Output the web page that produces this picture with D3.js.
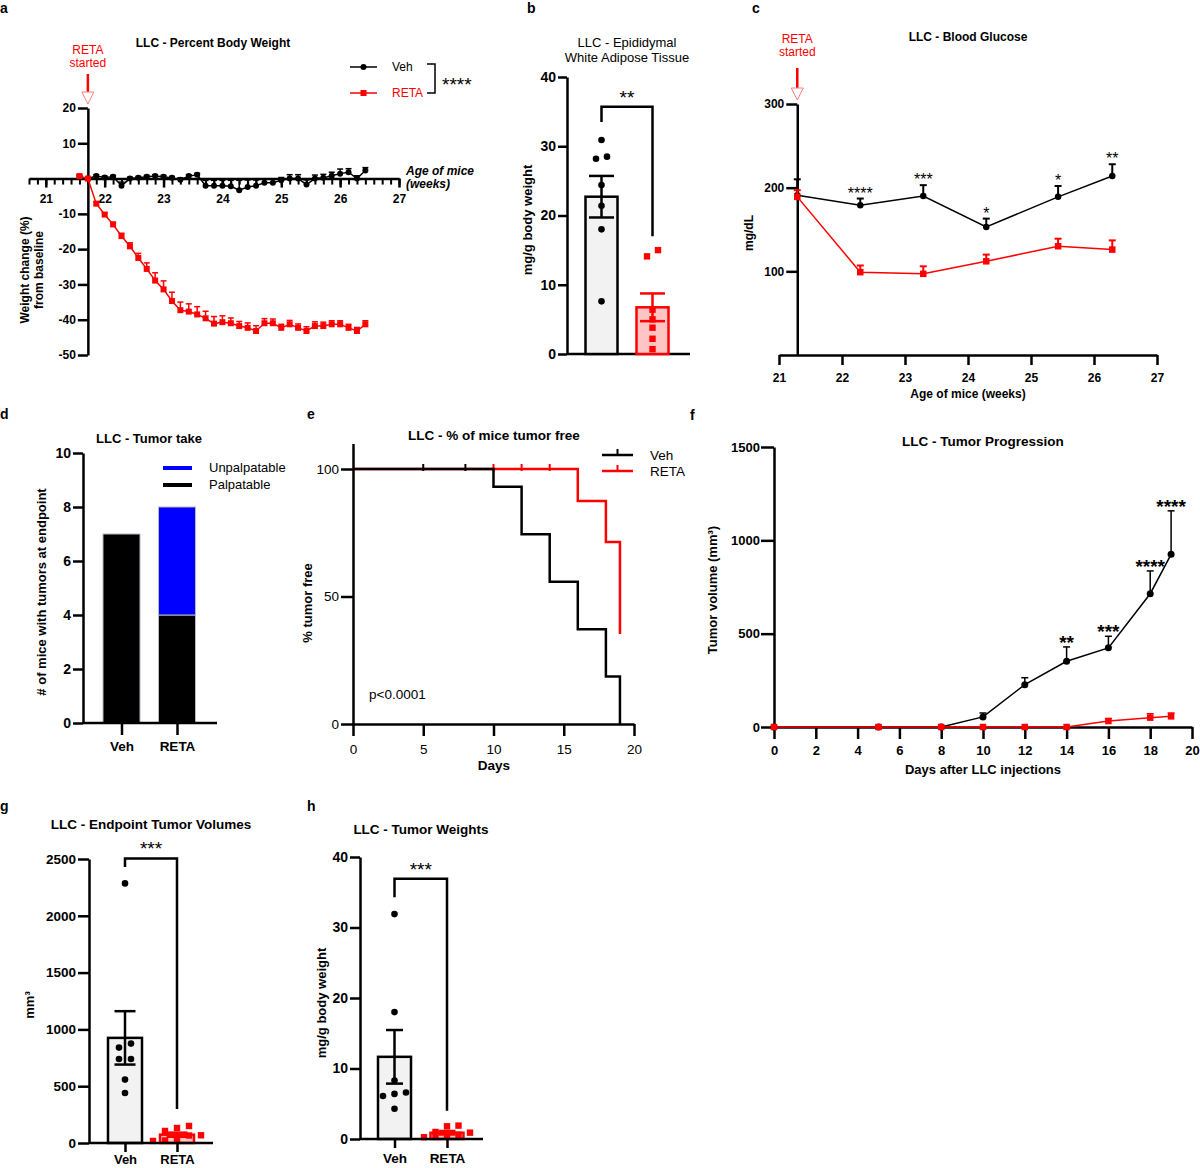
<!DOCTYPE html>
<html lang="en">
<head>
<meta charset="utf-8">
<title>LLC - RETA</title>
<script src="https://cdn.jsdelivr.net/npm/d3@7"></script>
<style>
body { margin: 0; background: #fff; }
svg { display: block; }
</style>
</head>
<body>
<script>
// ---- data ----
var groups = ["Veh", "RETA"];

// a: percent body weight, one point per day (day 0 = RETA start, 21 5/7 weeks)
var daysA = [-1, 0, 1, 2, 3, 4, 5, 6, 7, 8, 9, 10, 11, 12, 13, 14, 15, 16, 17, 18, 19, 20, 21, 22, 23, 24, 25, 26, 27, 28, 29, 30, 31, 32, 33];
var vehA = [0.5, 0, 0.7, 0.3, 0.5, -2.0, 0, 0.2, 0.5, 0.7, 0.5, 0.2, -0.3, 0.7, 1.1, -2.0, -2.0, -2.0, -2.2, -3.3, -2.4, -2.0, -1.2, -1.2, -0.5, 0, 0, -1.7, 0, 0.2, 0.8, 1.4, 1.8, 0, 2.3];
var vehAErr = [0.4, 0, 0.4, 0.4, 0.4, 1.0, 0.4, 0.4, 0.4, 0.4, 0.4, 0.4, 0.5, 0.4, 0.4, 1.5, 1.5, 1.5, 1.7, 2.8, 2.0, 1.6, 1.0, 1.0, 0.8, 1.1, 1.1, 1.3, 1.0, 1.0, 1.0, 1.3, 1.0, 0.8, 0.8];
var retaA = [0.7, 0, -7.1, -10.2, -13, -16.3, -19.2, -22.5, -25.6, -28.9, -31.4, -34.7, -37.3, -37.7, -38.5, -39.6, -41.1, -40.7, -41, -41.8, -42.3, -43.2, -41, -41, -42.3, -41.3, -42.3, -43.2, -41.8, -41.8, -41.3, -41.3, -42.3, -43.2, -41.3];
var retaAErr = [0.3, 0, 0.5, 0.5, 0.6, 0.8, 1.0, 1.3, 1.7, 2.2, 2.4, 2.5, 2.3, 2.2, 2.2, 2.0, 2.0, 1.8, 1.5, 1.3, 1.4, 1.5, 1.3, 1.2, 1.0, 1.1, 1.1, 1.2, 1.2, 1.1, 1.0, 1.0, 1.0, 1.0, 1.0];

// b: epididymal WAT (mg/g body weight)
var vehB = [30.9, 28.2, 28.5, 24.4, 21.4, 18.0, 7.6];
var retaB = [15.0, 14.1, 6.4, 5.0, 3.8, 2.2, 0.7];
var semB = [3.0, 2.0];

// c: blood glucose (mg/dL)
var weeksC = [21.29, 22.29, 23.29, 24.29, 25.43, 26.29];
var vehC = [191, 179, 190, 153, 189, 214];
var vehCErr = [19, 8, 13, 10, 13, 14];
var retaC = [189, 99, 97, 112, 130, 126];
var retaCErr = [8, 8, 9, 8, 9, 11];
var starsC = ["", "****", "***", "*", "*", "**"];

// d: tumor take
var palpable = [7, 4];
var unpalpable = [0, 4];

// e: % of mice tumor free
var kmVehDays = [0, 10, 12, 14, 16, 18, 19];
var kmVeh = [100, 93, 74.4, 55.8, 37.2, 18.6, 0];
var kmVehCensor = [5, 8];
var kmRetaDays = [0, 16, 18, 19];
var kmReta = [100, 87.5, 71.4, 35.3];
var kmRetaCensor = [10, 12, 14];

// f: tumor progression (mm3)
var daysF = [0, 5, 8, 10, 12, 14, 16, 18, 19];
var vehF = [0, 0, 0, 54, 227, 352, 424, 714, 925];
var vehFErr = [0, 0, 0, 21, 37, 77, 62, 122, 233];
var retaF = [0, 0, 0, 0, 0, 0, 32, 50, 57];
var retaFErr = [0, 0, 0, 0, 0, 0, 13, 21, 18];
var starsF = ["", "", "", "", "", "**", "***", "****", "****"];

// g: endpoint tumor volumes (mm3)
var vehG = [2285, 875, 840, 740, 740, 558, 440];
var retaG = [150, 132, 106, 68, 66, 24, 22, 18];
var semG = [235, 18];

// h: tumor weights (mg/g body weight)
var vehH = [31.9, 18.0, 8.3, 6.6, 6.4, 6.1, 4.3];
var retaH = [1.9, 1.8, 1.0, 0.9, 0.6, 0.35, 0.3, 0.25];
var semH = [3.8, 0.25];

// ---- helpers ----
var FONT = "'Liberation Sans', Arial, Helvetica, sans-serif";
var RED = "#ff0000";

var svg = d3.select("body").append("svg")
	.attr("width", 1200)
	.attr("height", 1168)
	.attr("font-family", FONT);

function label(g, x, y, s, size, o) {
	o = o || {};
	var t = g.append("text")
		.attr("x", x)
		.attr("y", y)
		.attr("font-size", size)
		.attr("font-weight", o.weight || "bold")
		.attr("text-anchor", o.anchor || "middle")
		.attr("fill", o.fill || "#000")
		.text(s);
	if (o.italic) t.attr("font-style", "italic");
	if (o.rotate) t.attr("transform", "rotate(-90," + x + "," + y + ")");
	return t;
}

function styleAxis(ax, size, weight) {
	ax.attr("font-family", FONT).attr("font-size", size);
	ax.select(".domain").attr("stroke", "#000").attr("stroke-width", 2.5);
	ax.selectAll(".tick line").attr("stroke", "#000").attr("stroke-width", 2.5);
	ax.selectAll(".tick text").attr("fill", "#000").attr("font-weight", weight);
	return ax;
}

function hline(g, x1, x2, y, col, w) {
	g.append("line").attr("x1", x1).attr("x2", x2).attr("y1", y).attr("y2", y)
		.attr("stroke", col).attr("stroke-width", w);
}
function vline(g, x, y1, y2, col, w) {
	g.append("line").attr("x1", x).attr("x2", x).attr("y1", y1).attr("y2", y2)
		.attr("stroke", col).attr("stroke-width", w);
}

function marker(g, shape, x, y, size, col) {
	if (shape === "circle") {
		g.append("circle").attr("cx", x).attr("cy", y).attr("r", size / 2).attr("fill", col);
	} else {
		g.append("rect").attr("x", x - size / 2).attr("y", y - size / 2)
			.attr("width", size).attr("height", size).attr("fill", col);
	}
}

// line + upward SEM bars + markers
function series(g, x, y, xs, vals, errs, o) {
	var pts = xs.map(function(d, i) { return [x(d), y(vals[i]), y(vals[i] + errs[i])]; });
	g.append("path")
		.attr("d", d3.line()(pts.map(function(p) { return [p[0], p[1]]; })))
		.attr("fill", "none")
		.attr("stroke", o.color)
		.attr("stroke-width", o.lw);
	pts.forEach(function(p) {
		if (p[1] - p[2] > 0.5) {
			vline(g, p[0], p[1], p[2], o.color, o.ew);
			hline(g, p[0] - o.cap / 2, p[0] + o.cap / 2, p[2], o.color, o.ew);
		}
	});
	pts.forEach(function(p) { marker(g, o.shape, p[0], p[1], o.size, o.color); });
	return pts;
}

// rows of points whose pixel heights overlap are spread sideways
function swarm(vals, y, gap, step) {
	var sorted = vals.slice().sort(d3.descending);
	var rows = [];
	sorted.forEach(function(v) {
		var last = rows[rows.length - 1];
		if (last && y(v) - y(last[0]) < gap) last.push(v);
		else rows.push([v]);
	});
	var out = [];
	rows.forEach(function(r) {
		r.slice().reverse().forEach(function(v, k) {
			out.push({ v: v, dx: (k - (r.length - 1) / 2) * step });
		});
	});
	return out;
}

function dotBars(g, x, y, sets, sems, o) {
	sets.forEach(function(vals, i) {
		var cx = x(groups[i]);
		var m = d3.mean(vals);
		var col = i === 0 ? "#000" : RED;
		g.append("rect")
			.attr("x", cx - o.barW / 2)
			.attr("y", y(m))
			.attr("width", o.barW)
			.attr("height", y(0) - y(m))
			.attr("fill", i === 0 ? "#f2f2f2" : "#ffc4c4")
			.attr("stroke", col)
			.attr("stroke-width", 2.5);
		swarm(vals, y, 7, o.step).forEach(function(p) {
			marker(g, i === 0 ? "circle" : "square", cx + p.dx, y(p.v), i === 0 ? 6.6 : 6.4, col);
		});
		var hi = y(m + sems[i]), lo = y(m - sems[i]);
		vline(g, cx, hi, lo, col, 2.5);
		hline(g, cx - o.capW / 2, cx + o.capW / 2, hi, col, 2.5);
		hline(g, cx - o.capW / 2, cx + o.capW / 2, lo, col, 2.5);
	});
}

function bracket(g, x1, x2, yL, yTop, yR, stars) {
	g.append("path")
		.attr("d", "M" + x1 + "," + yL + "V" + yTop + "H" + x2 + "V" + yR)
		.attr("fill", "none")
		.attr("stroke", "#000")
		.attr("stroke-width", 2.5);
	label(g, (x1 + x2) / 2, yTop - 3, stars, 19, { weight: "normal" });
}

function retaArrow(g, x, yText, y1, y2) {
	label(g, x, yText, "RETA", 12, { weight: "normal", fill: RED });
	label(g, x, yText + 13, "started", 12, { weight: "normal", fill: RED });
	vline(g, x, y1, y2, RED, 2.5);
	g.append("path")
		.attr("d", "M" + (x - 6) + "," + y2 + "L" + (x + 6) + "," + y2 + "L" + x + "," + (y2 + 12) + "Z")
		.attr("fill", "#fff")
		.attr("stroke", "#ff8080")
		.attr("stroke-width", 1);
}

// ---- a: percent body weight ----
var gA = svg.append("g");
var startA = 21 + 5 / 7;
var xA = d3.scaleLinear().domain([20 + 5 / 7, 27]).range([29, 399]);
var yA = d3.scaleLinear().domain([-50, 20]).range([355, 108]);
var weekA = daysA.map(function(d) { return startA + d / 7; });

var minorA = d3.range(0, 45).map(function(k) { return 20 + (5 + k) / 7; });
var axA = gA.append("g")
	.attr("transform", "translate(0," + yA(0) + ")")
	.call(d3.axisBottom(xA).tickValues(minorA).tickSize(6).tickFormat("").tickSizeOuter(0));
styleAxis(axA, 12, "bold");
axA.selectAll(".tick line").attr("stroke-width", 2);
var axA2 = gA.append("g")
	.attr("transform", "translate(0," + yA(0) + ")")
	.call(d3.axisBottom(xA).tickValues([21, 22, 23, 24, 25, 26, 27]).tickSize(9).tickPadding(7).tickFormat(String));
axA2.select(".domain").remove();
styleAxis(axA2, 12, "bold");

var ayA = gA.append("g")
	.attr("transform", "translate(" + xA(startA) + ",0)")
	.call(d3.axisLeft(yA).tickValues([-50, -40, -30, -20, -10, 10, 20]).tickSize(10).tickPadding(2).tickSizeOuter(0).tickFormat(String));
styleAxis(ayA, 12, "bold");

series(gA, xA, yA, weekA, vehA, vehAErr, { color: "#000", lw: 1.5, ew: 1.5, cap: 6, shape: "circle", size: 6 });
series(gA, xA, yA, weekA, retaA, retaAErr, { color: RED, lw: 1.5, ew: 1.5, cap: 6, shape: "square", size: 6 });

label(gA, 0, 13, "a", 14, { anchor: "start" });
label(gA, 213, 47, "LLC - Percent Body Weight", 12);
retaArrow(gA, xA(startA), 54, 74, 92);
label(gA, 406, 175, "Age of mice", 12, { anchor: "start", italic: true });
label(gA, 406, 188, "(weeks)", 12, { anchor: "start", italic: true });
label(gA, 29, 270, "Weight change (%)", 12, { rotate: true });
label(gA, 43, 270, "from baseline", 12, { rotate: true });

// legend a
hline(gA, 350, 377, 67, "#000", 1.5);
marker(gA, "circle", 363.5, 67, 6, "#000");
label(gA, 392, 71, "Veh", 12, { anchor: "start", weight: "normal" });
hline(gA, 350, 377, 93, RED, 1.5);
marker(gA, "square", 363.5, 93, 6, RED);
label(gA, 392, 97, "RETA", 12, { anchor: "start", weight: "normal", fill: RED });
gA.append("path").attr("d", "M427,64H435V93H427").attr("fill", "none").attr("stroke", "#000").attr("stroke-width", 1.5);
label(gA, 442, 91, "****", 19, { anchor: "start", weight: "normal" });

// ---- b: epididymal WAT ----
var gB = svg.append("g");
var yB = d3.scaleLinear().domain([0, 40]).range([354, 77]);
var xB = d3.scalePoint().domain(groups).range([601.5, 652.5]);
var ayB = gB.append("g")
	.attr("transform", "translate(567,0)")
	.call(d3.axisLeft(yB).tickValues([0, 10, 20, 30, 40]).tickSize(9).tickPadding(2).tickSizeOuter(0));
styleAxis(ayB, 14, "bold");
hline(gB, 567, 690, yB(0), "#000", 2.5);
dotBars(gB, xB, yB, [vehB, retaB], semB, { barW: 32, capW: 25, step: 11 });
bracket(gB, xB("Veh"), xB("RETA"), yB(33.5), yB(35.7), yB(17), "**");
label(gB, 527, 13, "b", 14, { anchor: "start" });
label(gB, 627, 47, "LLC - Epididymal", 13, { weight: "normal" });
label(gB, 627, 62, "White Adipose Tissue", 13, { weight: "normal" });
label(gB, 532, 220, "mg/g body weight", 13, { rotate: true });

// ---- c: blood glucose ----
var gC = svg.append("g");
var xC = d3.scaleLinear().domain([21, 27]).range([779, 1157]);
var yC = d3.scaleLinear().domain([0, 300]).range([355, 104]);
var axC = gC.append("g")
	.attr("transform", "translate(0," + yC(0) + ")")
	.call(d3.axisBottom(xC).tickValues([21, 22, 23, 24, 25, 26, 27]).tickSize(10).tickPadding(8).tickSizeOuter(0).tickFormat(String));
styleAxis(axC, 12, "bold");
var ayC = gC.append("g")
	.attr("transform", "translate(" + xC(weeksC[0]) + ",0)")
	.call(d3.axisLeft(yC).tickValues([100, 200, 300]).tickSize(11).tickPadding(2).tickSizeOuter(0));
styleAxis(ayC, 12, "bold");

var vehPtsC = series(gC, xC, yC, weeksC, vehC, vehCErr, { color: "#000", lw: 1.5, ew: 2, cap: 7, shape: "circle", size: 6.5 });
series(gC, xC, yC, weeksC, retaC, retaCErr, { color: RED, lw: 1.5, ew: 2, cap: 7, shape: "square", size: 6.5 });
vehPtsC.forEach(function(p, i) {
	if (starsC[i]) label(gC, p[0], p[2], starsC[i], 16, { weight: "normal" });
});

label(gC, 752, 13, "c", 14, { anchor: "start" });
label(gC, 968, 41, "LLC - Blood Glucose", 12);
retaArrow(gC, xC(weeksC[0]), 43, 68, 88);
label(gC, 968, 398, "Age of mice (weeks)", 12);
label(gC, 753, 233, "mg/dL", 12, { rotate: true });

// ---- d: tumor take ----
var gD = svg.append("g");
var yD = d3.scaleLinear().domain([0, 10]).range([723, 453]);
var xD = d3.scalePoint().domain(groups).range([121.5, 177]);
var tableD = groups.map(function(name, i) {
	return { group: name, Palpatable: palpable[i], Unpalpatable: unpalpable[i] };
});
var stackD = d3.stack().keys(["Palpatable", "Unpalpatable"])(tableD);
var colD = { Palpatable: "#000", Unpalpatable: "#0000ff" };
stackD.forEach(function(layer) {
	gD.selectAll(null)
		.data(layer)
		.enter()
		.append("rect")
		.attr("x", function(d) { return xD(d.data.group) - 18.5; })
		.attr("y", function(d) { return yD(d[1]); })
		.attr("width", 37)
		.attr("height", function(d) { return yD(d[0]) - yD(d[1]); })
		.attr("fill", colD[layer.key])
		.attr("stroke", function(d) { return d[1] > d[0] ? "#b8b8c8" : "none"; })
		.attr("stroke-width", 1);
});
var ayD = gD.append("g")
	.attr("transform", "translate(83,0)")
	.call(d3.axisLeft(yD).tickValues([0, 2, 4, 6, 8, 10]).tickSize(10).tickPadding(2).tickSizeOuter(0));
styleAxis(ayD, 14, "bold");
var axD = gD.append("g")
	.attr("transform", "translate(0," + yD(0) + ")")
	.call(d3.axisBottom(xD).tickSize(12).tickPadding(6).tickSizeOuter(0));
axD.select(".domain").remove();
styleAxis(axD, 13.5, "bold");
hline(gD, 83, 217, yD(0), "#000", 2.5);
hline(gD, 163, 192, 468, "#0000ff", 4);
label(gD, 209, 472, "Unpalpatable", 13, { anchor: "start", weight: "normal" });
hline(gD, 163, 192, 485, "#000", 4);
label(gD, 209, 489, "Palpatable", 13, { anchor: "start", weight: "normal" });
label(gD, 0, 419, "d", 14, { anchor: "start" });
label(gD, 149, 443, "LLC - Tumor take", 13);
label(gD, 46, 592, "# of mice with tumors at endpoint", 13, { rotate: true });

// ---- e: % tumor free ----
var gE = svg.append("g");
var xE = d3.scaleLinear().domain([0, 20]).range([353, 634]);
var yE = d3.scaleLinear().domain([0, 110]).range([724, 443.5]);
var kmLine = d3.line().curve(d3.curveStepAfter);
gE.append("path")
	.attr("d", kmLine(kmRetaDays.map(function(d, i) { return [xE(d), yE(kmReta[i])]; })))
	.attr("fill", "none").attr("stroke", RED).attr("stroke-width", 2.5);
kmRetaCensor.forEach(function(d) { vline(gE, xE(d), yE(100) - 5, yE(100) + 2, RED, 2); });
gE.append("path")
	.attr("d", kmLine(kmVehDays.map(function(d, i) { return [xE(d), yE(kmVeh[i])]; })))
	.attr("fill", "none").attr("stroke", "#000").attr("stroke-width", 2.5);
kmVehCensor.forEach(function(d) { vline(gE, xE(d), yE(100) - 5, yE(100) + 2, "#000", 2); });

var axE = gE.append("g")
	.attr("transform", "translate(0," + yE(0) + ")")
	.call(d3.axisBottom(xE).tickValues([0, 5, 10, 15, 20]).tickSize(12).tickPadding(8).tickSizeOuter(0));
styleAxis(axE, 13.5, "normal");
var ayE = gE.append("g")
	.attr("transform", "translate(" + xE(0) + ",0)")
	.call(d3.axisLeft(yE).tickValues([0, 50, 100]).tickSize(12).tickPadding(2).tickSizeOuter(0));
styleAxis(ayE, 13.5, "normal");

hline(gE, 602, 633, 455, "#000", 2.5);
vline(gE, 617.5, 449, 455, "#000", 2);
label(gE, 650, 460, "Veh", 13.5, { anchor: "start", weight: "normal" });
hline(gE, 602, 633, 471, RED, 2.5);
vline(gE, 617.5, 465, 471, RED, 2);
label(gE, 650, 476, "RETA", 13.5, { anchor: "start", weight: "normal" });
label(gE, 369, 699, "p<0.0001", 13.5, { anchor: "start", weight: "normal" });
label(gE, 307, 419, "e", 14, { anchor: "start" });
label(gE, 494, 440, "LLC - % of mice tumor free", 13.5);
label(gE, 494, 770, "Days", 13.5);
label(gE, 312, 603, "% tumor free", 13, { rotate: true });

// ---- f: tumor progression ----
var gF = svg.append("g");
var xF = d3.scaleLinear().domain([0, 20]).range([774, 1192]);
var yF = d3.scaleLinear().domain([0, 1500]).range([727, 447]);
var axF = gF.append("g")
	.attr("transform", "translate(0," + yF(0) + ")")
	.call(d3.axisBottom(xF).tickValues([0, 2, 4, 6, 8, 10, 12, 14, 16, 18, 20]).tickSize(12).tickPadding(7).tickSizeOuter(0));
styleAxis(axF, 13, "bold");
var ayF = gF.append("g")
	.attr("transform", "translate(" + xF(0) + ",0)")
	.call(d3.axisLeft(yF).tickValues([0, 500, 1000, 1500]).tickSize(13).tickPadding(1).tickSizeOuter(0).tickFormat(String));
styleAxis(ayF, 13, "bold");
var vehPtsF = series(gF, xF, yF, daysF, vehF, vehFErr, { color: "#000", lw: 1.5, ew: 1.5, cap: 7, shape: "circle", size: 7 });
series(gF, xF, yF, daysF, retaF, retaFErr, { color: RED, lw: 1.5, ew: 1.5, cap: 7, shape: "square", size: 6.5 });
vehPtsF.forEach(function(p, i) {
	if (starsF[i]) label(gF, p[0], p[2] + 2, starsF[i], 19);
});
label(gF, 690, 420, "f", 14, { anchor: "start" });
label(gF, 983, 446, "LLC - Tumor Progression", 13.5);
label(gF, 983, 774, "Days after LLC injections", 13);
label(gF, 717, 590, "Tumor volume (mm³)", 13, { rotate: true });

// ---- g: endpoint tumor volumes ----
var gG = svg.append("g");
var yG = d3.scaleLinear().domain([0, 2500]).range([1143, 859]);
var xG = d3.scalePoint().domain(groups).range([125, 177]);
var ayG = gG.append("g")
	.attr("transform", "translate(89,0)")
	.call(d3.axisLeft(yG).tickValues([0, 500, 1000, 1500, 2000, 2500]).tickSize(11).tickPadding(2).tickSizeOuter(0).tickFormat(String));
styleAxis(ayG, 13.5, "bold");
dotBars(gG, xG, yG, [vehG, retaG], semG, { barW: 34, capW: 21, step: 12 });
var axG = gG.append("g")
	.attr("transform", "translate(0," + yG(0) + ")")
	.call(d3.axisBottom(xG).tickSize(9).tickPadding(3).tickSizeOuter(0));
axG.select(".domain").remove();
styleAxis(axG, 13, "bold");
hline(gG, 89, 213, yG(0), "#000", 2.5);
bracket(gG, xG("Veh"), xG("RETA"), yG(2430), yG(2505), yG(300), "***");
label(gG, 0, 811, "g", 14, { anchor: "start" });
label(gG, 151, 829, "LLC - Endpoint Tumor Volumes", 13.5);
label(gG, 34, 1005, "mm³", 13, { rotate: true });

// ---- h: tumor weights ----
var gH = svg.append("g");
var yH = d3.scaleLinear().domain([0, 40]).range([1139, 857]);
var xH = d3.scalePoint().domain(groups).range([394.5, 447]);
var ayH = gH.append("g")
	.attr("transform", "translate(360,0)")
	.call(d3.axisLeft(yH).tickValues([0, 10, 20, 30, 40]).tickSize(10).tickPadding(2).tickSizeOuter(0));
styleAxis(ayH, 14, "bold");
dotBars(gH, xH, yH, [vehH, retaH], semH, { barW: 33, capW: 17, step: 11.5 });
var axH = gH.append("g")
	.attr("transform", "translate(0," + yH(0) + ")")
	.call(d3.axisBottom(xH).tickSize(9).tickPadding(5).tickSizeOuter(0));
axH.select(".domain").remove();
styleAxis(axH, 13.5, "bold");
hline(gH, 360, 483, yH(0), "#000", 2.5);
bracket(gH, xH("Veh"), xH("RETA"), yH(34.3), yH(36.9), yH(4), "***");
label(gH, 307, 811, "h", 14, { anchor: "start" });
label(gH, 421, 834, "LLC - Tumor Weights", 13.5);
label(gH, 326, 1003, "mg/g body weight", 13, { rotate: true });
</script>
</body>
</html>
